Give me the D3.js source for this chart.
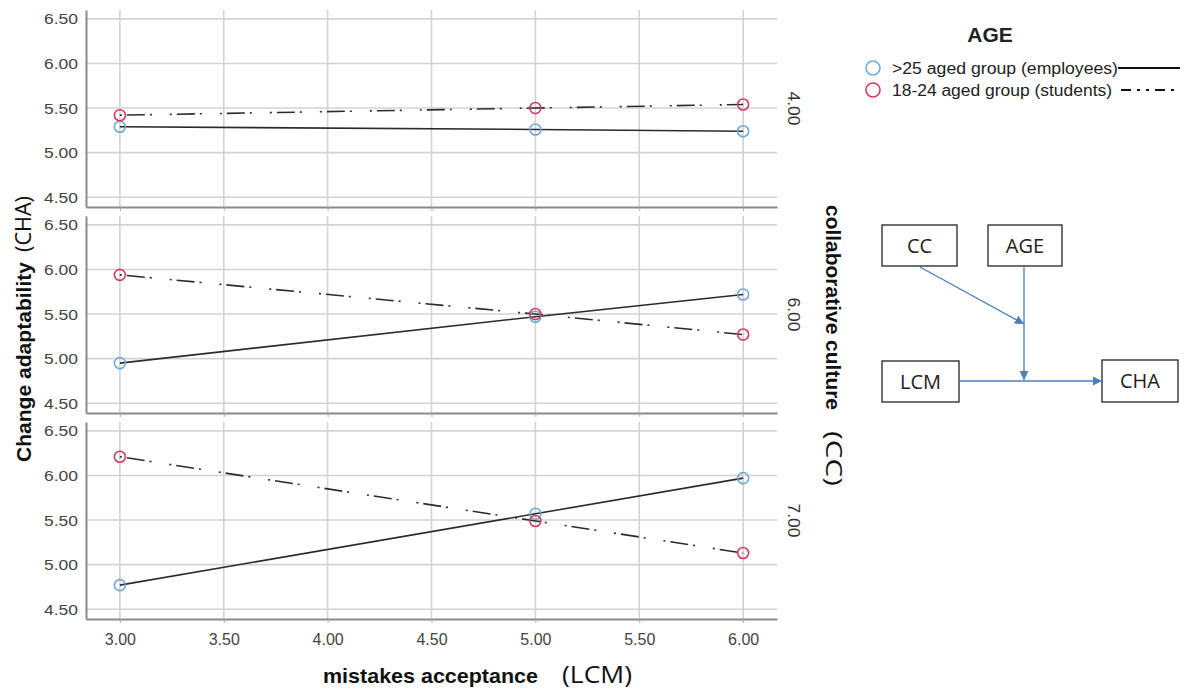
<!DOCTYPE html>
<html><head><meta charset="utf-8">
<script src="https://cdn.jsdelivr.net/npm/d3@7"></script>
<style>body{margin:0;background:#fff}svg{display:block}</style>
</head><body>
<svg id="c" width="1190" height="695"></svg>
<script>
const xValues = [3, 5, 6];
const xTicks = [3.0, 3.5, 4.0, 4.5, 5.0, 5.5, 6.0];
const yTicks = [4.5, 5.0, 5.5, 6.0, 6.5];
const panels = ["4.00", "6.00", "7.00"];
const groups = [">25 aged group (employees)", "18-24 aged group (students)"];
// values per panel (CC level), per group, at x = 3, 5, 6
const employees = [[5.29, 5.26, 5.24], [4.95, 5.47, 5.72], [4.77, 5.57, 5.97]];
const students  = [[5.42, 5.50, 5.54], [5.94, 5.50, 5.27], [6.21, 5.49, 5.13]];
const diagramNodes = ["CC", "AGE", "LCM", "CHA"];

const svg = d3.select("#c");
const left = 86, right = 777;
const panelTops = [10, 216, 422], panelH = 197;
const x = d3.scaleLinear().domain([2.837, 6.163]).range([left, right]);
const colors = ["#6ea8d8", "#d23a62"];
const dashes = [null, "2,5,18,5,2,18"];
const series = [employees, students];
const fontAxis = "Liberation Sans, Arial, sans-serif";
const fontAlt = "Open Sans, sans-serif";

panelTops.forEach((top, p) => {
  const y = d3.scaleLinear().domain([4.39, 6.60]).range([top + panelH, top]);
  const g = svg.append("g");
  g.selectAll(".hg").data(yTicks).join("line")
    .attr("x1", left).attr("x2", right).attr("y1", d => y(d)).attr("y2", d => y(d))
    .attr("stroke", "#d3d3d3").attr("stroke-width", 1.6);
  g.selectAll(".vg").data(xTicks).join("line")
    .attr("x1", d => x(d)).attr("x2", d => x(d)).attr("y1", top).attr("y2", top + panelH)
    .attr("stroke", "#d3d3d3").attr("stroke-width", 1.6);
  const ya = g.append("g").attr("transform", `translate(${left},0)`)
    .call(d3.axisLeft(y).tickValues(yTicks).tickFormat(d3.format(".2f")).tickSize(0).tickPadding(8));
  ya.select(".domain").attr("stroke", "#8a8a8a").attr("stroke-width", 2);
  ya.selectAll("text").attr("font-family", fontAxis).attr("font-size", 15.5).attr("fill", "#444")
    .attr("textLength", 34).attr("lengthAdjust", "spacingAndGlyphs");
  const xa = g.append("g").attr("transform", `translate(0,${top + panelH})`)
    .call(d3.axisBottom(x).tickValues(xTicks).tickFormat(d3.format(".2f")).tickSize(4).tickSizeOuter(0).tickPadding(11));
  xa.select(".domain").attr("stroke", "#8a8a8a").attr("stroke-width", 2);
  xa.selectAll(".tick line").attr("stroke", "#aaa");
  if (p < 2) xa.selectAll("text").remove();
  else xa.selectAll("text").attr("font-family", fontAxis).attr("font-size", 16).attr("fill", "#444");

  const line = d3.line().x((d, i) => x(xValues[i])).y(d => y(d));
  series.forEach((s, k) => {
    g.append("path").attr("d", line(s[p])).attr("fill", "none")
      .attr("stroke", "#2b2b2b").attr("stroke-width", 1.6)
      .attr("stroke-dasharray", dashes[k]);
  });
  series.forEach((s, k) => {
    g.selectAll(".pt" + k).data(s[p]).join("circle")
      .attr("cx", (d, i) => x(xValues[i])).attr("cy", d => y(d)).attr("r", 5.5)
      .attr("fill", "none").attr("stroke", colors[k]).attr("stroke-width", 1.6);
  });
  const cy = top + panelH / 2;
  svg.append("text").attr("transform", `translate(788,${cy}) rotate(90)`)
    .attr("text-anchor", "middle").attr("font-family", fontAxis).attr("font-size", 16)
    .attr("textLength", 34).attr("lengthAdjust", "spacingAndGlyphs")
    .attr("fill", "#333").text(panels[p]);
});

// axis titles
function title(tx, ty, rot, str, opts) {
  svg.append("text").attr("transform", `translate(${tx},${ty}) rotate(${rot})`)
    .attr("font-family", opts.bold ? fontAxis : fontAlt).attr("font-weight", opts.bold ? "bold" : "normal")
    .attr("font-size", opts.size).attr("fill", "#111")
    .attr("textLength", opts.len).attr("lengthAdjust", "spacingAndGlyphs").text(str);
}
title(323, 683, 0, "mistakes acceptance", {bold: true, size: 21, len: 215});
title(562, 683, 0, "(LCM)", {bold: false, size: 24, len: 70});
title(31, 462, -90, "Change adaptability", {bold: true, size: 21, len: 200});
title(31, 252, -90, "(CHA)", {bold: false, size: 21, len: 56});
title(826, 205, 90, "collaborative culture", {bold: true, size: 21, len: 205});
title(826, 431, 90, "(CC)", {bold: false, size: 22, len: 55});

// legend
svg.append("text").attr("x", 990).attr("y", 42).attr("text-anchor", "middle")
  .attr("font-family", fontAxis).attr("font-weight", "bold").attr("font-size", 21).attr("fill", "#222").text("AGE");
groups.forEach((name, k) => {
  const ly = 68 + k * 22;
  svg.append("circle").attr("cx", 873).attr("cy", ly).attr("r", 7).attr("fill", "none")
    .attr("stroke", colors[k]).attr("stroke-width", 1.6);
  svg.append("text").attr("x", 892).attr("y", ly + 6).attr("font-family", fontAxis)
    .attr("font-size", 16).attr("fill", "#222")
    .attr("textLength", k === 0 ? 226 : 220).attr("lengthAdjust", "spacingAndGlyphs").text(name);
  svg.append("line").attr("x1", k === 0 ? 1118 : 1121).attr("x2", 1180).attr("y1", ly).attr("y2", ly)
    .attr("stroke", "#111").attr("stroke-width", 2).attr("stroke-dasharray", k === 0 ? null : "10,6,3,6,3,6");
});

// conceptual diagram
svg.append("defs").append("marker").attr("id", "ah").attr("viewBox", "0 0 10 10")
  .attr("refX", 10).attr("refY", 5).attr("markerWidth", 7).attr("markerHeight", 7).attr("orient", "auto")
  .append("path").attr("d", "M0,0L10,5L0,10z").attr("fill", "#4a7fbf");
const boxes = [[882, 225, 75, 41], [988, 225, 74, 41], [882, 361, 77, 41], [1102, 360, 76, 42]];
boxes.forEach((b, i) => {
  svg.append("rect").attr("x", b[0]).attr("y", b[1]).attr("width", b[2]).attr("height", b[3])
    .attr("fill", "#fff").attr("stroke", "#222").attr("stroke-width", 1.3);
  svg.append("text").attr("x", b[0] + b[2] / 2).attr("y", b[1] + b[3] / 2 + 7).attr("text-anchor", "middle")
    .attr("font-family", fontAlt).attr("font-size", 20).attr("fill", "#222").text(diagramNodes[i]);
});
const arrows = [[920, 267, 1024, 324], [1024, 266, 1024, 380], [959, 381, 1102, 381]];
arrows.forEach(a => {
  svg.append("line").attr("x1", a[0]).attr("y1", a[1]).attr("x2", a[2]).attr("y2", a[3])
    .attr("stroke", "#4a7fbf").attr("stroke-width", 1.3).attr("marker-end", "url(#ah)");
});
</script>
</body></html>
